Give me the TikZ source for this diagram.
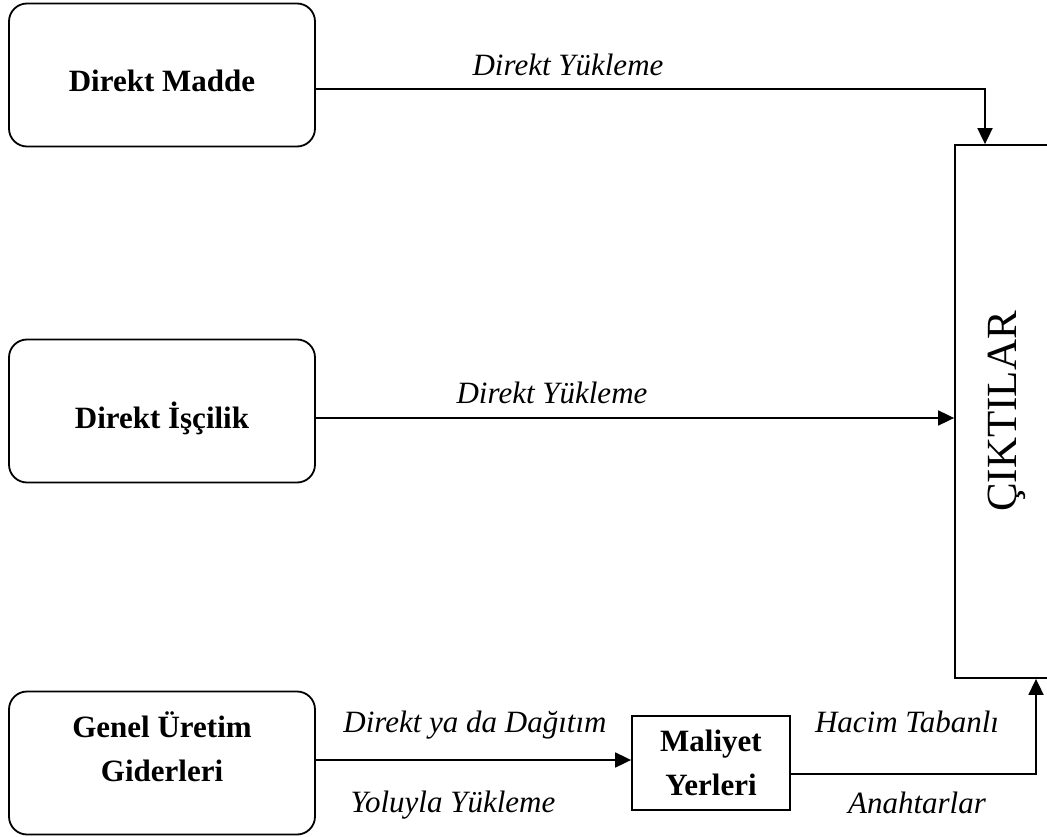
\documentclass[tikz,border=0pt]{standalone}
\usepackage{fontspec}
\setmainfont{Liberation Serif}
\usepackage{graphicx}
\usetikzlibrary{arrows.meta}

\begin{document}
\begin{tikzpicture}	[>={Triangle[length=16pt,width=15pt]},x=1pt,y=-1pt,line width=1.8pt,
	kutu/.style={draw,rounded corners=18pt,minimum width=306pt,minimum height=143pt,align=center,font=\fontsize{31}{44}\selectfont\bfseries},
	etiket/.style={anchor=base,font=\fontsize{31}{37}\selectfont\itshape}]
	
	\useasboundingbox (0,0) rectangle (1047,837);
	\clip (0,0) rectangle (1047,837);
	%\draw[gray,step=50] (0,0) grid (1047,837);
	
	\node [kutu,text height=34pt,text depth=0pt] (madde) at (162,75) {Direkt Madde};
	\node [kutu,text height=34pt,text depth=0pt] (iscilik) at (162,411) {Direkt İşçilik};
	\node [kutu,text depth=33pt] (genel) at (162,763) {Genel Üretim\\Giderleri};
	\node [draw,minimum width=158pt,minimum height=94pt,align=center,font=\fontsize{31}{44}\selectfont\bfseries] (maliyet) at (711,763) {Maliyet\\Yerleri};
	\node [draw,minimum width=94pt,minimum height=533pt,inner sep=0pt,font=\fontsize{43}{50}\selectfont] (cikti) at (1002,411.5) 
	{\rotatebox{90}{\raisebox{0pt}[\height][0pt]{ÇIKTILAR}}};
	
	\node [etiket] (yukleme1) at (568,76) {Direkt Yükleme};
	\node [etiket] (yukleme2) at (552,403) {Direkt Yükleme};
	\node [etiket] (dagitim) at (475,732) {Direkt ya da Dağıtım};
	\node [etiket] (yoluyla) at (453,812) {Yoluyla Yükleme};
	\node [etiket] (hacim) at (907,732) {Hacim Tabanlı};
	\node [etiket] (anahtar) at (917,813) {Anahtarlar};
	
	\draw[->] ([yshift=-14pt]madde.east) -| ([xshift=-17pt]cikti.north);
	\draw[->] ([yshift=-7pt]iscilik.east) -- ([yshift=-7pt]iscilik.east -| cikti.west);
	\draw[->] ([yshift=3pt]genel.east) -- ([yshift=3pt]genel.east -| maliyet.west);
	\draw[->] ([yshift=-11pt]maliyet.east) -| ([xshift=34pt]cikti.south);
\end{tikzpicture}
\end{document}
